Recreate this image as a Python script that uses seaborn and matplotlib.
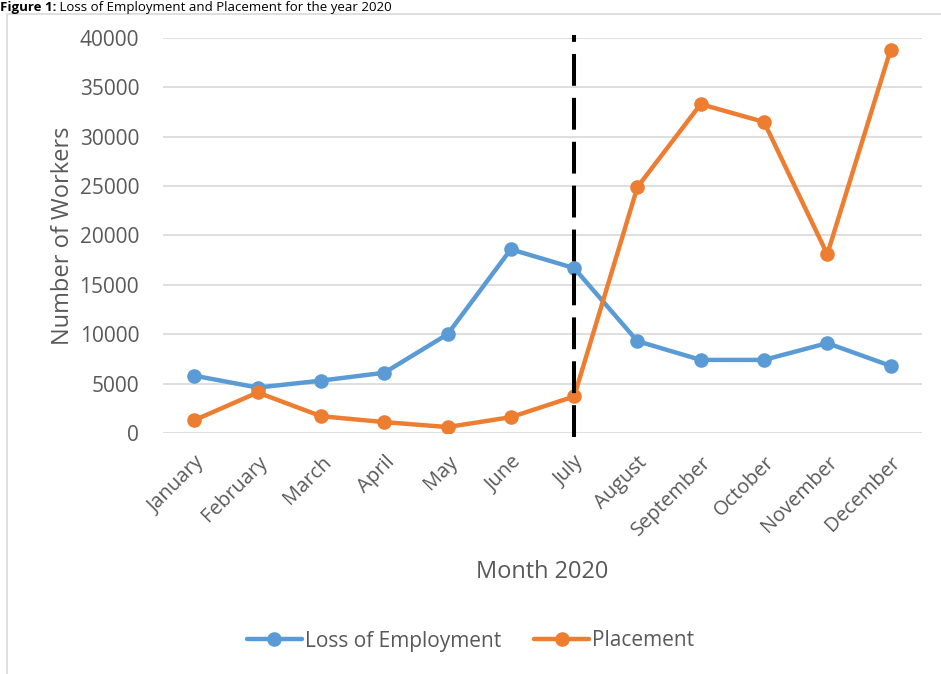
import matplotlib
matplotlib.use("Agg")
import matplotlib.pyplot as plt
import seaborn as sns
import pandas as pd
from matplotlib.lines import Line2D
from matplotlib.patches import Rectangle
from matplotlib.transforms import offset_copy

months = ["January", "February", "March", "April", "May", "June", "July",
          "August", "September", "October", "November", "December"]
loss_of_employment = [5800, 4600, 5300, 6100, 10000, 18600, 16700,
                      9300, 7400, 7400, 9100, 6800]
placement = [1300, 4100, 1700, 1100, 600, 1600, 3700,
             24900, 33300, 31500, 18100, 38800]
series_names = ["Loss of Employment", "Placement"]
colors = ["#5B9BD5", "#ED7D31"]
marker_month = "July"
yticks = list(range(0, 40001, 5000))

sns.set_theme(style="white")
plt.rcParams["font.family"] = ["Open Sans", "DejaVu Sans"]

df = pd.DataFrame({
    "Month": months * 2,
    "Workers": loss_of_employment + placement,
    "Series": [series_names[0]] * 12 + [series_names[1]] * 12,
})

fig = plt.figure(figsize=(9.41, 6.74), dpi=100)
ax = fig.add_axes([0.173, 0.3576, 0.807, 0.586])

sns.lineplot(data=df, x="Month", y="Workers", hue="Series", palette=colors,
             marker="o", markersize=10.5, markeredgewidth=0, linewidth=3.2,
             ax=ax, legend=False, sort=False)

xi = months.index(marker_month)
ax.vlines(xi, -400, 40300, colors="black", linewidth=2.9,
          linestyles=(0, (7.9, 3.0)), zorder=5, clip_on=False)

ax.set_xlim(-0.5, len(months) - 0.5)
ax.set_ylim(0, 40000)
ax.set_yticks(yticks)
ax.set_yticklabels([str(v) for v in yticks], fontsize=15, color="#595959")
ax.set_xticks(range(len(months)))
ax.set_xticklabels(months, rotation=45, ha="right", rotation_mode="anchor",
                   fontsize=14.5, color="#595959")
ax.tick_params(axis="y", length=0, pad=17)
ax.tick_params(axis="x", length=0, pad=14)
ax.yaxis.grid(True, color="#D9D9D9", linewidth=1.2)
ax.xaxis.grid(False)
for s in ax.spines.values():
    s.set_visible(False)
ax.set_axisbelow(True)

ax.set_ylabel("Number of Workers", fontsize=17, color="#595959", labelpad=3)
ax.set_xlabel("Month 2020", fontsize=17, color="#595959")
ax.xaxis.set_label_coords(0.5, -0.322)

handles = [Line2D([0], [0], color=c, linewidth=3.2, marker="o", markersize=10.5,
                  markeredgewidth=0) for c in colors]
fig.legend(handles, series_names, loc="center", bbox_to_anchor=(0.5, 1 - 641 / 674),
           ncol=2, frameon=False, fontsize=15, labelcolor="#595959",
           handlelength=2.64, handletextpad=0.15, columnspacing=1.6)

fig.patches.append(Rectangle((7 / 941, -0.01), 1.0, 1 - 14 / 674 + 0.01,
                             transform=fig.transFigure, fill=False,
                             edgecolor="#D9D9D9", linewidth=1.2))

t1 = fig.text(0.0, 1.0 - 0.5 / 674, "Figure 1:", fontsize=9.5, fontweight="bold",
              color="black", ha="left", va="top")
fig.canvas.draw()
w = t1.get_window_extent().width
fig.text(0.0, 1.0 - 0.5 / 674, " Loss of Employment and Placement for the year 2020",
         fontsize=9.5, color="black", ha="left", va="top",
         transform=offset_copy(fig.transFigure, fig=fig, x=w, y=0, units="dots"))

fig.savefig("out.png", dpi=100)
